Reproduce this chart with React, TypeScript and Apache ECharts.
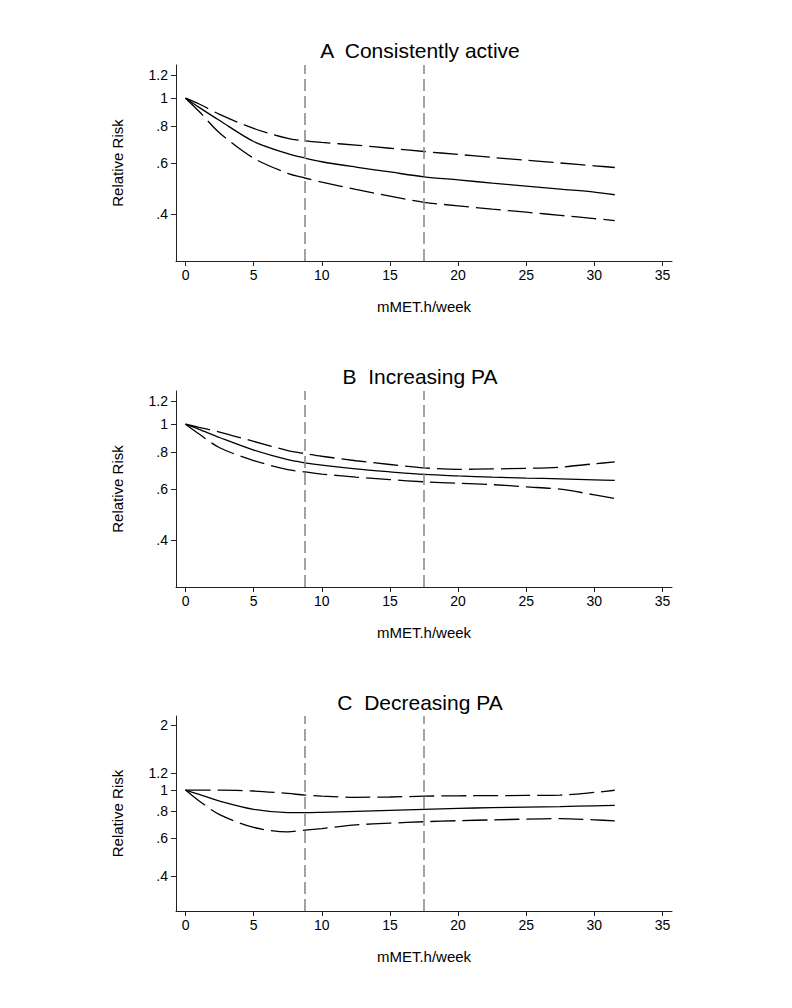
import React, { useEffect, useRef } from "react";
import * as echarts from "echarts";

// ---------- data ----------
const mmet = [0, 1, 2.5, 5, 7.5, 8.75, 10, 12.5, 15, 17.5, 20, 22.5, 25, 27.5, 30, 31.5];

const panelTitles = ["A  Consistently active", "B  Increasing PA", "C  Decreasing PA"];

const activeRR = [1, 0.93, 0.838, 0.71, 0.645, 0.623, 0.605, 0.58, 0.558, 0.537, 0.524, 0.511, 0.499, 0.487, 0.476, 0.466];
const activeUpper = [1, 0.955, 0.88, 0.787, 0.728, 0.714, 0.705, 0.69, 0.673, 0.656, 0.641, 0.626, 0.612, 0.599, 0.586, 0.578];
const activeLower = [1, 0.9, 0.76, 0.622, 0.552, 0.532, 0.515, 0.486, 0.461, 0.439, 0.427, 0.416, 0.406, 0.396, 0.386, 0.38];

const increasingRR = [1, 0.96, 0.9, 0.815, 0.755, 0.737, 0.723, 0.702, 0.686, 0.672, 0.664, 0.658, 0.653, 0.649, 0.644, 0.641];
const increasingUpper = [1, 0.975, 0.94, 0.873, 0.812, 0.793, 0.776, 0.749, 0.727, 0.708, 0.7, 0.702, 0.705, 0.712, 0.731, 0.742];
const increasingLower = [1, 0.925, 0.83, 0.75, 0.698, 0.686, 0.674, 0.658, 0.645, 0.634, 0.627, 0.62, 0.609, 0.598, 0.572, 0.556];

const decreasingRR = [1, 0.955, 0.89, 0.815, 0.787, 0.786, 0.789, 0.797, 0.806, 0.815, 0.823, 0.829, 0.834, 0.839, 0.846, 0.849];
const decreasingUpper = [1, 1.0, 1.0, 0.99, 0.965, 0.948, 0.938, 0.926, 0.929, 0.937, 0.941, 0.942, 0.945, 0.948, 0.975, 0.998];
const decreasingLower = [1, 0.89, 0.77, 0.672, 0.641, 0.653, 0.664, 0.69, 0.703, 0.714, 0.722, 0.728, 0.734, 0.738, 0.728, 0.721];

const refLines = [8.75, 17.5];

const xTicks = [0, 5, 10, 15, 20, 25, 30, 35];
const yTicksAB = [0.4, 0.6, 0.8, 1, 1.2];
const yTicksC = [0.4, 0.6, 0.8, 1, 1.2, 2];

const xRange = [-0.7, 35.7];
const yRangeAB = [0.276, 1.3];
const yRangeC = [0.276, 2.2];

// ---------- chart ----------
const FONT = 'Arial, "Liberation Sans", Helvetica, sans-serif';

const fmtRR = (v: number) => {
  const r = Math.round(Math.exp(v) * 10) / 10;
  let s = String(r);
  if (s.startsWith("0.")) s = s.slice(1);
  return s;
};

const pairs = (vals: number[]) => mmet.map((x, i) => [x, Math.log(vals[i])]);

export default function App() {
  const ref = useRef<HTMLDivElement>(null);

  useEffect(() => {
    if (!ref.current) return;
    const chart = echarts.init(ref.current, undefined, { renderer: "svg" });

    const grids = [
      { left: 176, top: 65, width: 496, height: 196 },
      { left: 176, top: 391, width: 496, height: 196 },
      { left: 176, top: 716, width: 496, height: 195 },
    ];
    const titleTops = [35, 361, 687];
    const panels = [
      { est: activeRR, up: activeUpper, lo: activeLower, ticks: yTicksAB, range: yRangeAB },
      { est: increasingRR, up: increasingUpper, lo: increasingLower, ticks: yTicksAB, range: yRangeAB },
      { est: decreasingRR, up: decreasingUpper, lo: decreasingLower, ticks: yTicksC, range: yRangeC },
    ];

    const axisCommon = {
      axisLine: { show: true, onZero: false, lineStyle: { color: "#222", width: 1 } },
      axisTick: { show: true, length: 5, lineStyle: { color: "#222", width: 1 } },
      splitLine: { show: false },
    };

    const xAxis = panels.map((_, i) => ({
      type: "value",
      gridIndex: i,
      min: xRange[0],
      max: xRange[1],
      ...axisCommon,
      axisTick: { ...axisCommon.axisTick, customValues: xTicks },
      axisLabel: {
        customValues: xTicks,
        color: "#000",
        fontSize: 14,
        fontFamily: FONT,
        margin: 7,
      },
      name: "mMET.h/week",
      nameLocation: "middle",
      nameGap: 38,
      nameTextStyle: { color: "#000", fontSize: 15, fontFamily: FONT },
    }));

    const yAxis = panels.map((p, i) => {
      const lt = p.ticks.map((t) => Math.log(t));
      return {
        type: "value",
        gridIndex: i,
        min: Math.log(p.range[0]),
        max: Math.log(p.range[1]),
        ...axisCommon,
        axisTick: { ...axisCommon.axisTick, customValues: lt },
        axisLabel: {
          customValues: lt,
          formatter: (v: number) => fmtRR(v),
          color: "#000",
          fontSize: 14,
          fontFamily: FONT,
          margin: 8,
        },
        name: "Relative Risk",
        nameLocation: "middle",
        nameGap: 51,
        nameTextStyle: { color: "#000", fontSize: 15, fontFamily: FONT },
      };
    });

    const series: any[] = [];
    panels.forEach((p, i) => {
      const common = {
        type: "line",
        xAxisIndex: i,
        yAxisIndex: i,
        showSymbol: false,
        symbol: "none",
        smooth: 0.3,
        silent: true,
      };
      series.push({
        ...common,
        data: pairs(p.est),
        lineStyle: { color: "#000", width: 1.3, type: "solid" },
        markLine: {
          symbol: "none",
          silent: true,
          label: { show: false },
          lineStyle: { color: "#8c8c8c", width: 1.6, type: [12, 5] },
          data: refLines.map((x) => ({ xAxis: x })),
        },
        z: 3,
      });
      series.push({
        ...common,
        data: pairs(p.up),
        lineStyle: { color: "#000", width: 1.3, type: [25, 7] },
        z: 3,
      });
      series.push({
        ...common,
        data: pairs(p.lo),
        lineStyle: { color: "#000", width: 1.3, type: [25, 7] },
        z: 3,
      });
    });

    chart.setOption({
      animation: false,
      backgroundColor: "#fff",
      title: panelTitles.map((t, i) => ({
        text: t,
        left: 415,
        top: titleTops[i],
        textAlign: "center",
        textStyle: { color: "#000", fontSize: 21, fontWeight: "normal", fontFamily: FONT },
      })),
      grid: grids,
      xAxis,
      yAxis,
      series,
    });

    return () => chart.dispose();
  }, []);

  return (
    <div
      ref={ref}
      style={{ position: "absolute", left: 0, top: 0, width: 792, height: 1008, background: "#fff" }}
    />
  );
}
